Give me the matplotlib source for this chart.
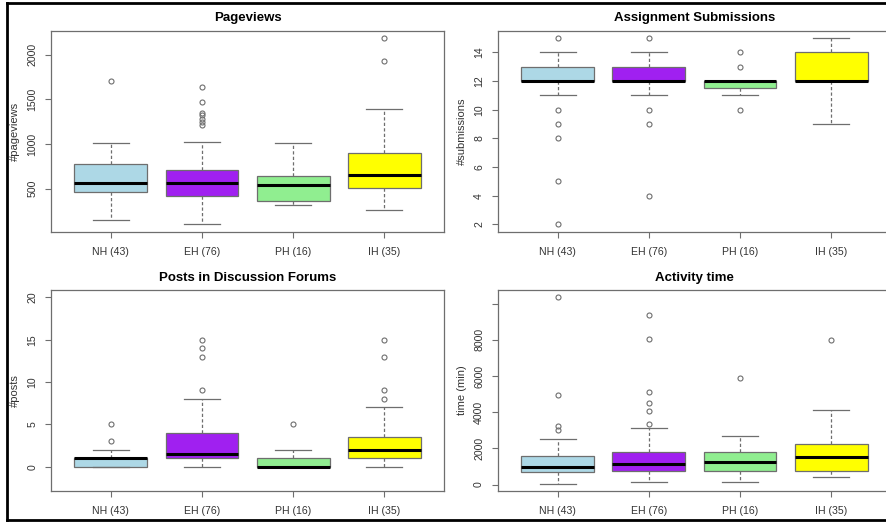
"""
Four boxplots of learning activity by learner group (NH / EH / PH / IH).
Box statistics read off the published figure; drawn with Axes.bxp.
"""

import matplotlib
matplotlib.use('Agg')
import matplotlib.pyplot as plt
from matplotlib.lines import Line2D

plt.rcParams['font.family'] = ['Liberation Sans', 'DejaVu Sans']

# ------------------------------------------------------------------
# Data (box statistics per group)
# ------------------------------------------------------------------
GROUPS = ['NH (43)', 'EH (76)', 'PH (16)', 'IH (35)']

# Pageviews
pv_q1     = [462, 421, 361, 511]
pv_med    = [563, 563, 537, 653]
pv_q3     = [773, 706, 646, 894]
pv_lo     = [143, 99, 320, 256]
pv_hi     = [1006, 1024, 1006, 1389]
pv_fliers = [[1707],
             [1636, 1474, 1350, 1320, 1285, 1250, 1215],
             [],
             [2187, 1932]]

# Assignment submissions
sub_q1     = [12, 12, 11.5, 12]
sub_med    = [12, 12, 12, 12]
sub_q3     = [13, 13, 12, 14]
sub_lo     = [11, 11, 11, 9]
sub_hi     = [14, 14, 12, 15]
sub_fliers = [[15, 10, 9, 8, 5, 2],
              [15, 10, 9, 4],
              [14, 13, 10],
              []]

# Posts in discussion forums
post_q1     = [0, 1, 0, 1]
post_med    = [1, 1.5, 0, 2]
post_q3     = [1, 4, 1, 3.5]
post_lo     = [0, 0, 0, 0]
post_hi     = [2, 8, 2, 7]
post_fliers = [[5, 3],
               [15, 14, 13, 9],
               [5],
               [15, 13, 9, 8]]

# Activity time (min)
time_q1     = [679, 773, 756, 756]
time_med    = [977, 1143, 1231, 1529]
time_q3     = [1563, 1783, 1805, 2225]
time_lo     = [55, 127, 127, 442]
time_hi     = [2523, 3130, 2666, 4101]
time_fliers = [[10340, 4968, 3218, 3036],
               [9346, 8043, 5134, 4526, 4068, 3350],
               [5868],
               [7988]]

BOX_COLORS = ['#ADD8E6', '#A020F0', '#90EE90', '#FFFF00']
LINE_GRAY = '#6e6e6e'
TEXT_GRAY = '#333333'


def make_stats(q1, med, q3, lo, hi, fliers):
    return [dict(label=g, q1=a, med=m, q3=b, whislo=l, whishi=h, fliers=f)
            for g, a, m, b, l, h, f in zip(GROUPS, q1, med, q3, lo, hi, fliers)]


def r_limits(lo, hi):
    # R's default 4% axis expansion
    pad = 0.04 * (hi - lo)
    return lo - pad, hi + pad


def draw_panel(ax, stats, title, ylabel, yticks, ylim=None, blank_ticks=()):
    bp = ax.bxp(stats, positions=[1, 2, 3, 4], widths=0.8, patch_artist=True,
                showfliers=True,
                boxprops=dict(edgecolor=LINE_GRAY, linewidth=0.9),
                medianprops=dict(color='black', linewidth=2.2, solid_capstyle='butt'),
                whiskerprops=dict(color=LINE_GRAY, linewidth=0.9,
                                  linestyle=(0, (2.6, 1.8))),
                capprops=dict(color=LINE_GRAY, linewidth=0.9),
                capwidths=0.4,
                flierprops=dict(marker='o', markersize=3.6, markerfacecolor='none',
                                markeredgecolor=LINE_GRAY, markeredgewidth=0.8,
                                linestyle='none'))
    for patch, c in zip(bp['boxes'], BOX_COLORS):
        patch.set_facecolor(c)

    if ylim is None:
        vals = [s['whislo'] for s in stats] + [s['whishi'] for s in stats]
        for s in stats:
            vals += list(s['fliers'])
        ylim = (min(vals), max(vals))
    ax.set_ylim(*r_limits(*ylim))
    ax.set_xlim(*r_limits(0.5, 4.5))

    ax.set_yticks(yticks)
    ax.set_yticklabels(['' if t in blank_ticks else f'{t:g}' for t in yticks],
                       rotation=90, va='center')
    ax.set_xticks([1, 2, 3, 4])
    ax.set_xticklabels(GROUPS)

    ax.tick_params(axis='both', direction='out', length=4.3, width=0.8,
                   color=LINE_GRAY, labelcolor=TEXT_GRAY, labelsize=7.6, pad=5.5)
    ax.tick_params(axis='x', pad=6.5)
    for sp in ax.spines.values():
        sp.set_color(LINE_GRAY)
        sp.set_linewidth(0.9)

    ax.set_ylabel(ylabel, fontsize=8, color=TEXT_GRAY)
    ax.yaxis.set_label_coords(-0.079, 0.5)
    ax.text(0.5, 1.062, title, transform=ax.transAxes, ha='center', va='center',
            fontsize=9.5, fontweight='bold', color='black')


fig = plt.figure(figsize=(8.87, 5.22), dpi=100)

W, H = 0.4437, 0.3851
ax_pv   = fig.add_axes([0.0572, 0.5561, W, H])
ax_sub  = fig.add_axes([0.5611, 0.5561, W, H])
ax_post = fig.add_axes([0.0572, 0.0594, W, H])
ax_time = fig.add_axes([0.5611, 0.0594, W, H])

draw_panel(ax_pv, make_stats(pv_q1, pv_med, pv_q3, pv_lo, pv_hi, pv_fliers),
           'Pageviews', '#pageviews', [500, 1000, 1500, 2000])
draw_panel(ax_sub, make_stats(sub_q1, sub_med, sub_q3, sub_lo, sub_hi, sub_fliers),
           'Assignment Submissions', '#submissions', [2, 4, 6, 8, 10, 12, 14])
draw_panel(ax_post, make_stats(post_q1, post_med, post_q3, post_lo, post_hi, post_fliers),
           'Posts in Discussion Forums', '#posts', [0, 5, 10, 15, 20], ylim=(-2, 20))
draw_panel(ax_time, make_stats(time_q1, time_med, time_q3, time_lo, time_hi, time_fliers),
           'Activity time', 'time (min)', [0, 2000, 4000, 6000, 8000, 10000],
           blank_ticks=(10000,))

# black frame of the screenshot (open on the right)
fw, fh = 887, 522
frame = dict(color='black', linewidth=2.0, solid_capstyle='projecting')
fig.add_artist(Line2D([7 / fw, 1.01], [1 - 2.8 / fh] * 2, **frame))
fig.add_artist(Line2D([7 / fw, 1.01], [1 - 520.2 / fh] * 2, **frame))
fig.add_artist(Line2D([7 / fw] * 2, [1 - 2.8 / fh, 1 - 520.2 / fh], **frame))

fig.savefig('out.png', dpi=100)
